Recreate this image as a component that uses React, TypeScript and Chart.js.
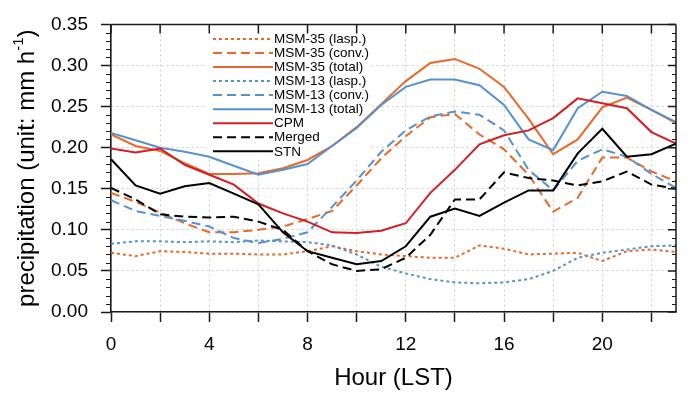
import React, { useEffect, useRef } from 'react';
import { Chart, registerables } from 'chart.js';

Chart.register(...registerables);

// ---------------- data ----------------
const hours = [0, 1, 2, 3, 4, 5, 6, 7, 8, 9, 10, 11, 12, 13, 14, 15, 16, 17, 18, 19, 20, 21, 22, 23];

const msm35Lasp = [0.072, 0.068, 0.074, 0.073, 0.071, 0.071, 0.070, 0.070, 0.074, 0.080, 0.074, 0.070, 0.068, 0.066, 0.066, 0.081, 0.077, 0.070, 0.071, 0.072, 0.062, 0.074, 0.076, 0.073];
const msm35Conv = [0.145, 0.134, 0.121, 0.108, 0.097, 0.097, 0.100, 0.104, 0.113, 0.123, 0.154, 0.187, 0.214, 0.237, 0.241, 0.216, 0.198, 0.167, 0.122, 0.139, 0.188, 0.188, 0.171, 0.159];
const msm35Total = [0.216, 0.202, 0.196, 0.181, 0.168, 0.168, 0.169, 0.175, 0.185, 0.202, 0.225, 0.253, 0.281, 0.303, 0.308, 0.296, 0.274, 0.235, 0.192, 0.210, 0.249, 0.261, 0.246, 0.230];
const msm13Lasp = [0.083, 0.086, 0.086, 0.085, 0.086, 0.085, 0.087, 0.086, 0.085, 0.081, 0.070, 0.055, 0.047, 0.040, 0.036, 0.035, 0.036, 0.040, 0.050, 0.066, 0.072, 0.076, 0.080, 0.081];
const msm13Conv = [0.136, 0.123, 0.117, 0.111, 0.104, 0.090, 0.084, 0.089, 0.097, 0.128, 0.160, 0.195, 0.221, 0.238, 0.244, 0.240, 0.221, 0.173, 0.148, 0.184, 0.198, 0.189, 0.168, 0.151];
const msm13Total = [0.218, 0.209, 0.200, 0.195, 0.189, 0.178, 0.167, 0.173, 0.180, 0.202, 0.224, 0.252, 0.274, 0.283, 0.283, 0.276, 0.252, 0.210, 0.197, 0.248, 0.268, 0.263, 0.246, 0.231];
const cpm = [0.199, 0.194, 0.199, 0.179, 0.167, 0.155, 0.132, 0.120, 0.110, 0.097, 0.096, 0.099, 0.108, 0.145, 0.173, 0.204, 0.215, 0.221, 0.236, 0.260, 0.254, 0.248, 0.219, 0.205];
const merged = [0.151, 0.137, 0.119, 0.116, 0.115, 0.116, 0.110, 0.100, 0.074, 0.058, 0.050, 0.052, 0.066, 0.094, 0.137, 0.137, 0.170, 0.163, 0.160, 0.154, 0.159, 0.171, 0.155, 0.150];
const stn = [0.186, 0.154, 0.144, 0.153, 0.157, 0.144, 0.131, 0.097, 0.074, 0.066, 0.058, 0.062, 0.080, 0.116, 0.126, 0.117, 0.133, 0.148, 0.148, 0.193, 0.223, 0.189, 0.192, 0.205];

const seriesLabels = [
  'MSM-35 (lasp.)',
  'MSM-35 (conv.)',
  'MSM-35 (total)',
  'MSM-13 (lasp.)',
  'MSM-13 (conv.)',
  'MSM-13 (total)',
  'CPM',
  'Merged',
  'STN',
];

const xTickValues = [0, 2, 4, 6, 8, 10, 12, 14, 16, 18, 20, 22];
const xTickLabels = ['0', '4', '8', '12', '16', '20'];
const yTickValues = [0, 0.05, 0.1, 0.15, 0.2, 0.25, 0.3, 0.35];
const yMinorValues = [0.01, 0.02, 0.03, 0.04, 0.06, 0.07, 0.08, 0.09, 0.11, 0.12, 0.13, 0.14, 0.16, 0.17, 0.18, 0.19, 0.21, 0.22, 0.23, 0.24, 0.26, 0.27, 0.28, 0.29, 0.31, 0.32, 0.33, 0.34];

const xTitle = 'Hour (LST)';
const yTitleMain = 'precipitation (unit: mm h';
const yTitleSup = '-1';
const yTitleEnd = ')';

// ---------------- styles ----------------
const ORANGE = 'rgb(232,104,40)';
const BLUE = 'rgb(86,146,206)';
const RED = 'rgb(212,30,36)';
const BLACK = '#000000';
const AXIS = '#1a1a1a';
const FONT = '"Liberation Sans", Arial, Helvetica, sans-serif';

const DOT = [3, 3];
const DASH = [9, 5];

const seriesValues = [msm35Lasp, msm35Conv, msm35Total, msm13Lasp, msm13Conv, msm13Total, cpm, merged, stn];
const seriesColors = [ORANGE, ORANGE, ORANGE, BLUE, BLUE, BLUE, RED, BLACK, BLACK];
const seriesDash = [DOT, DASH, [], DOT, DASH, [], [], DASH, []];

const framePlugin = {
  id: 'framePlugin',
  beforeDatasetsDraw(chart: any) {
    const { ctx, chartArea } = chart;
    // white legend background (hides gridlines only)
    ctx.save();
    ctx.fillStyle = '#ffffff';
    ctx.fillRect(chartArea.left + 96, chartArea.top + 4, 162, 131);
    ctx.restore();
  },
  afterDatasetsDraw(chart: any) {
    const { ctx, chartArea } = chart;
    const { left, right, top, bottom } = chartArea;
    const xs = chart.scales.x;
    const ys = chart.scales.y;

    // legend
    ctx.save();
    const lx0 = left + 102;
    const lx1 = left + 162;
    const ly0 = top + 14.5;
    const step = 14.05;
    ctx.font = `13.5px ${FONT}`;
    ctx.textBaseline = 'middle';
    ctx.textAlign = 'left';
    chart.data.datasets.forEach((ds: any, i: number) => {
      const y = ly0 + i * step;
      ctx.beginPath();
      ctx.setLineDash(ds.borderDash || []);
      ctx.strokeStyle = ds.borderColor;
      ctx.lineWidth = 2;
      ctx.moveTo(lx0, y);
      ctx.lineTo(lx1, y);
      ctx.stroke();
      ctx.setLineDash([]);
      ctx.fillStyle = '#000';
      ctx.fillText(ds.label, lx1 + 1, y + 0.5);
    });
    ctx.restore();

    // top & right frame
    ctx.save();
    ctx.strokeStyle = AXIS;
    ctx.lineWidth = 1.5;
    ctx.setLineDash([]);
    ctx.beginPath();
    ctx.moveTo(left, top);
    ctx.lineTo(right, top);
    ctx.moveTo(right, top);
    ctx.lineTo(right, bottom);
    ctx.stroke();

    // top ticks (inward)
    ctx.lineWidth = 1.5;
    ctx.beginPath();
    xTickValues.forEach((v) => {
      const px = xs.getPixelForValue(v);
      ctx.moveTo(px, top);
      ctx.lineTo(px, top + 9);
    });
    // right major ticks (inward)
    yTickValues.forEach((v) => {
      const py = ys.getPixelForValue(v);
      ctx.moveTo(right, py);
      ctx.lineTo(right - 8, py);
    });
    ctx.stroke();

    // minor ticks
    ctx.lineWidth = 1;
    ctx.beginPath();
    yMinorValues.forEach((v) => {
      const py = Math.round(ys.getPixelForValue(v)) + 0.5;
      ctx.moveTo(right, py);
      ctx.lineTo(right - 4, py);
      ctx.moveTo(left, py);
      ctx.lineTo(left - 5, py);
    });
    ctx.stroke();

    // y-axis title with superscript
    ctx.translate(27, (top + bottom) / 2);
    ctx.rotate(-Math.PI / 2);
    ctx.fillStyle = '#000';
    ctx.textBaseline = 'middle';
    ctx.textAlign = 'left';
    ctx.font = `24px ${FONT}`;
    const w1 = ctx.measureText(yTitleMain).width;
    const w3 = ctx.measureText(yTitleEnd).width;
    ctx.font = `15px ${FONT}`;
    const w2 = ctx.measureText(yTitleSup).width;
    const total = w1 + w2 + w3;
    const x0 = -total / 2;
    ctx.font = `24px ${FONT}`;
    ctx.fillText(yTitleMain, x0, 0);
    ctx.font = `15px ${FONT}`;
    ctx.fillText(yTitleSup, x0 + w1, -8);
    ctx.font = `24px ${FONT}`;
    ctx.fillText(yTitleEnd, x0 + w1 + w2, 0);
    ctx.restore();
  },
};

export default function App() {
  const canvasRef = useRef<HTMLCanvasElement | null>(null);

  useEffect(() => {
    const canvas = canvasRef.current;
    if (!canvas) return;
    const n = seriesLabels.length;
    const datasets = seriesLabels.map((label, i) => ({
      label,
      data: hours.map((h, j) => ({ x: h, y: seriesValues[i][j] })),
      borderColor: seriesColors[i],
      backgroundColor: seriesColors[i],
      borderDash: seriesDash[i],
      borderWidth: 2,
      pointRadius: 0,
      tension: 0,
      fill: false,
      order: n - 1 - i,
    }));

    const gridCommon = {
      color: '#cfcfcf',
      lineWidth: 1,
      tickColor: AXIS,
      tickWidth: 1.5,
      drawTicks: true,
    };

    const chart = new Chart(canvas, {
      type: 'line',
      data: { datasets },
      options: {
        animation: false,
        responsive: false,
        maintainAspectRatio: false,
        devicePixelRatio: 1,
        layout: { padding: { top: 17.5, right: 24, left: 0, bottom: 0 } },
        plugins: {
          legend: { display: false },
          tooltip: { enabled: false },
        },
        scales: {
          x: {
            type: 'linear',
            min: 0,
            max: 23,
            afterBuildTicks: (s: any) => {
              s.ticks = xTickValues.map((v) => ({ value: v }));
            },
            afterFit: (s: any) => {
              s.height = 398 - 312;
            },
            ticks: {
              autoSkip: false,
              maxRotation: 0,
              minRotation: 0,
              color: '#000',
              font: { family: FONT, size: 19 },
              padding: 11.5,
              callback: (v: any) => (xTickLabels.includes(String(v)) ? String(v) : ''),
            },
            grid: { ...gridCommon, tickLength: 10 },
            border: { display: true, color: AXIS, width: 1.6, dash: [2, 3] },
            title: {
              display: true,
              text: xTitle,
              color: '#000',
              font: { family: FONT, size: 24 },
              padding: { top: 0, bottom: 5 },
            },
          },
          y: {
            type: 'linear',
            min: 0,
            max: 0.35,
            afterBuildTicks: (s: any) => {
              s.ticks = yTickValues.map((v) => ({ value: v }));
            },
            afterFit: (s: any) => {
              s.width = 111;
            },
            ticks: {
              color: '#000',
              font: { family: FONT, size: 19 },
              padding: 13,
              callback: (v: any) => Number(v).toFixed(2),
            },
            grid: { ...gridCommon, tickLength: 10 },
            border: { display: true, color: AXIS, width: 1.6, dash: [2, 3] },
          },
        },
      },
      plugins: [framePlugin],
    } as any);

    return () => {
      chart.destroy();
    };
  }, []);

  return (
    <div style={{ position: 'absolute', left: 0, top: 0, width: 700, height: 398, background: '#fff' }}>
      <canvas ref={canvasRef} width={700} height={398} style={{ display: 'block', width: 700, height: 398 }} />
    </div>
  );
}
